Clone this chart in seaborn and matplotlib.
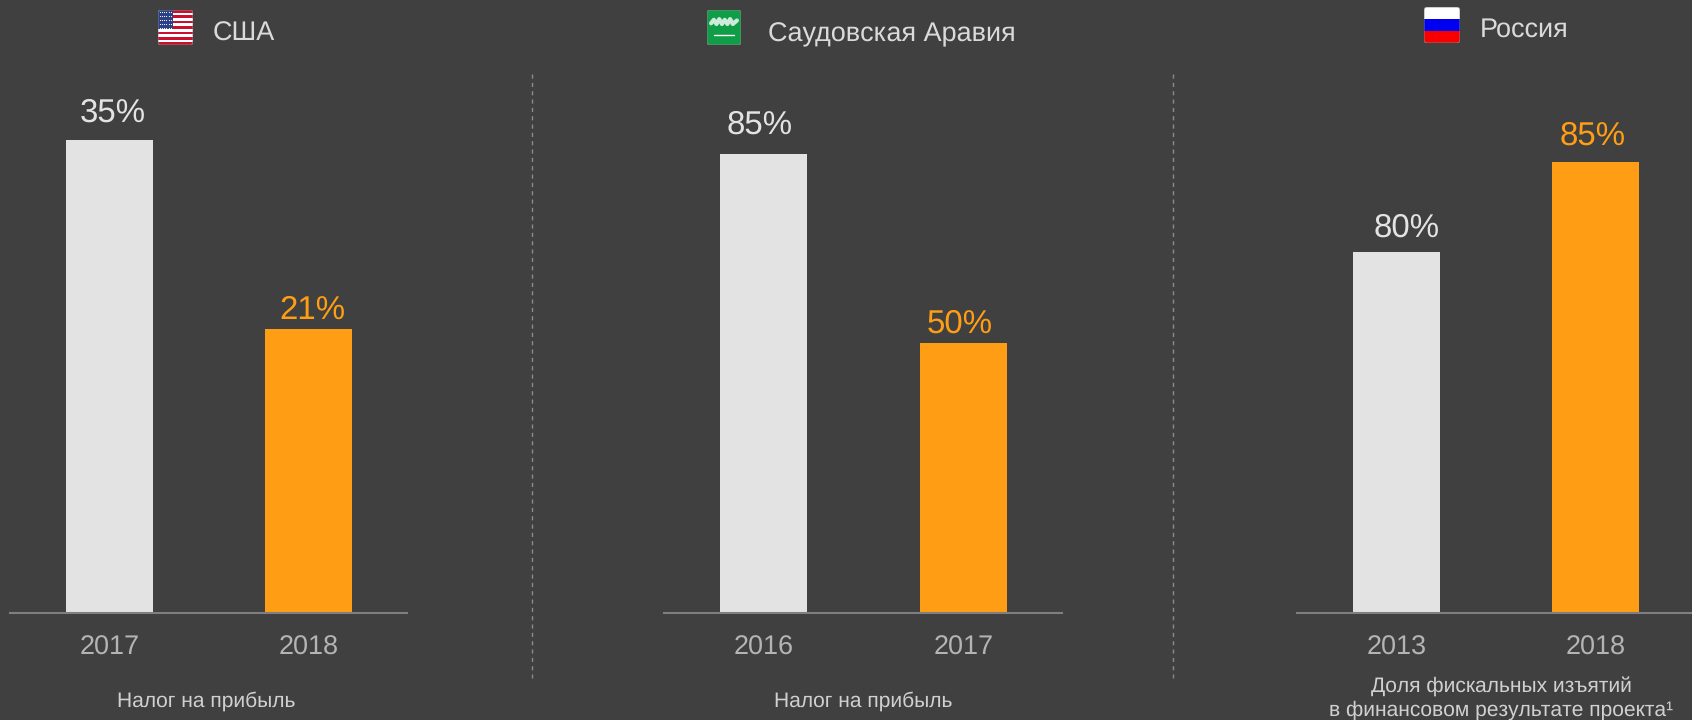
import numpy as np
import pandas as pd
import seaborn as sns
import matplotlib.pyplot as plt
from matplotlib.colors import to_rgb
from matplotlib.patches import FancyBboxPatch

W, H = 1692, 720
BG = "#404040"
LIGHT = "#E3E3E3"
ORANGE = "#FF9E15"
TICK = "#B4B4B4"
AXIS = "#7F7F7F"

# Values
usa_years = ["2017", "2018"]
usa_values = [35, 21]
saudi_years = ["2016", "2017"]
saudi_values = [85, 50]
russia_years = ["2013", "2018"]
russia_values = [80, 85]

usa_title = "США"
saudi_title = "Саудовская Аравия"
russia_title = "Россия"
profit_tax = "Налог на прибыль"
russia_note = "Доля фискальных изъятий\nв финансовом результате проекта¹"

sns.set_theme(style="white")
plt.rcParams["font.family"] = ["Liberation Sans", "DejaVu Sans"]
plt.rcParams["text.hinting"] = "no_hinting"
plt.rcParams["text.hinting_factor"] = 1


def px_axes(fig, left, top, right, bottom):
    return fig.add_axes([left / W, 1 - bottom / H, (right - left) / W, (bottom - top) / H])


def plot_panel(fig, box, years, values, y_range, label_offsets, x_max=1.495):
    """One country: two bars, the newer one orange, on a pixel-placed axes."""
    ax = px_axes(fig, *box)
    df = pd.DataFrame({"year": years, "value": values})
    sns.barplot(
        data=df,
        x="year",
        y="value",
        hue="year",
        palette=[LIGHT, ORANGE],
        legend=False,
        width=0.437,
        saturation=1,
        linewidth=0,
        ax=ax,
    )
    ax.set_xlim(-0.5, x_max)
    ax.set_ylim(*y_range)
    ax.set_facecolor("none")
    ax.set_xlabel("")
    ax.set_ylabel("")
    ax.set_yticks([])
    sns.despine(ax=ax, left=True)
    ax.spines["bottom"].set_color(AXIS)
    ax.spines["bottom"].set_linewidth(1.5)
    ax.tick_params(axis="x", length=0, pad=15.7, labelsize=19.5, labelcolor=TICK)

    colors = [LIGHT, ORANGE]
    for i, v in enumerate(values):
        dx, dy = label_offsets[i]
        ax.annotate(
            f"{v}%",
            xy=(i, v),
            xytext=(dx * 0.72, dy * 0.72),
            textcoords="offset points",
            ha="center",
            va="baseline",
            fontsize=23.5,
            color=colors[i],
        )
    return ax


def draw_flag(fig, box, rows):
    """Small rounded flag from an image array."""
    ax = px_axes(fig, *box)
    ax.axis("off")
    img = np.array(rows, dtype=float)
    im = ax.imshow(img, aspect="auto", extent=(0, 1, 0, 1), interpolation="nearest")
    clip = FancyBboxPatch(
        (0.06, 0.06), 0.88, 0.88,
        boxstyle="round,pad=0.06,rounding_size=0.08",
        transform=ax.transData, facecolor="none", edgecolor="#8a8a8a", linewidth=0.6,
    )
    ax.add_patch(clip)
    im.set_clip_path(clip)
    ax.set_xlim(0, 1)
    ax.set_ylim(0, 1)
    return ax, clip


def usa_flag(fig):
    red, white, blue = to_rgb("#C8102E"), to_rgb("#FFFFFF"), to_rgb("#2A3F85")
    rows = []
    for i in range(13):
        stripe = red if i % 2 == 0 else white
        rows.append([blue if (i < 7 and j < 10) else stripe for j in range(24)])
    ax, clip = draw_flag(fig, (158, 10, 193, 45), rows)
    sx, sy = np.meshgrid(np.linspace(0.06, 0.36, 6), np.linspace(0.5, 0.94, 5))
    dots = ax.scatter(sx.ravel(), sy.ravel(), s=0.7, color="white", linewidths=0)
    dots.set_clip_path(clip)


def saudi_flag(fig):
    green = to_rgb("#0F9D48")
    ax, clip = draw_flag(fig, (707, 10, 741, 45), [[green, green], [green, green]])
    ax.plot([0.12, 0.2, 0.28, 0.36, 0.44, 0.52, 0.6, 0.68, 0.76, 0.88],
            [0.62, 0.72, 0.6, 0.74, 0.6, 0.72, 0.6, 0.74, 0.6, 0.7],
            color="white", lw=3, alpha=0.8, solid_joinstyle="round")
    ax.plot([0.22, 0.78], [0.28, 0.28], color="white", lw=1)


def russia_flag(fig):
    white, blue, red = to_rgb("#FFFFFF"), to_rgb("#0000F0"), to_rgb("#F80000")
    draw_flag(fig, (1424, 7, 1460, 43), [[white] * 2, [blue] * 2, [red] * 2])


def main():
    fig = plt.figure(figsize=(W / 100, H / 100), dpi=100, facecolor=BG)

    plot_panel(fig, (10, 60, 407, 613), usa_years, usa_values, (0, 35 * 553 / 473),
               [(3, 18), (4, 10)])
    plot_panel(fig, (664, 60, 1062, 613), saudi_years, saudi_values, (0, 85 * 553 / 459),
               [(-4, 20), (-4, 10)])
    # this panel's bars do not start at zero in the original: 80 vs 85 is drawn 361 vs 451 px
    plot_panel(fig, (1297, 60, 1692, 613), russia_years, russia_values,
               (60, 60 + 25 * 553 / 451), [(10, 16), (-3, 17)], x_max=1.485)

    for x in (532, 1173):
        fig.add_artist(plt.Line2D([x / W, x / W], [1 - 74 / H, 1 - 678 / H],
                                  color="#8C8C8C", lw=1, ls=(0, (3, 3))))

    head = dict(color="#DADADA", va="center", ha="left")
    fig.text(213 / W, 1 - 34 / H, usa_title, fontsize=19.3, **head)
    fig.text(768 / W, 1 - 34 / H, saudi_title, fontsize=19.1, **head)
    fig.text(1480 / W, 1 - 30 / H, russia_title, fontsize=19.3, **head)

    note = dict(fontsize=15.45, color="#D0D0D0", va="center", ha="center")
    fig.text(206 / W, 1 - 701 / H, profit_tax, **note)
    fig.text(863 / W, 1 - 701 / H, profit_tax, **note)
    fig.text(1501 / W, 1 - 698 / H, russia_note, linespacing=1.3, **note)

    usa_flag(fig)
    saudi_flag(fig)
    russia_flag(fig)

    fig.savefig("out.png", dpi=100, facecolor=BG)
    plt.close(fig)


if __name__ == "__main__":
    main()
